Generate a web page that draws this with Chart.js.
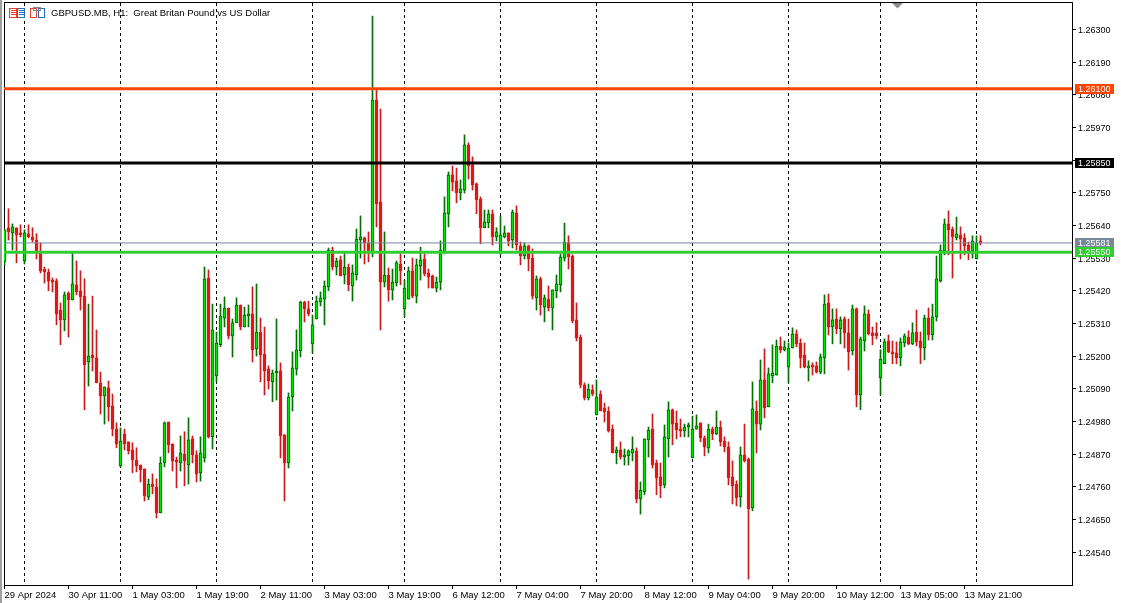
<!DOCTYPE html>
<html>
<head>
<meta charset="utf-8">
<style>html,body{margin:0;padding:0;background:#fff;overflow:hidden}canvas{display:block}</style>
<script src="https://cdn.jsdelivr.net/npm/chart.js@4"></script>
</head>
<body>
<canvas id="c" width="1126" height="603"></canvas>
<script>
const title = "GBPUSD.MB, H1:  Great Britan Pound vs US Dollar";
const highs = [
1.25628,1.25696,1.25645,1.25632,1.25642,1.25625,1.25642,1.25632,1.25612,1.25581,
1.25500,1.25493,1.25463,1.25460,1.25379,1.25416,1.25416,1.25547,1.25520,1.25487,
1.25460,1.25375,1.25402,1.25288,1.25146,1.25096,1.25116,1.25072,1.24975,1.24958,
1.24954,1.24911,1.24908,1.24891,1.24833,1.24820,1.24786,1.24803,1.24786,1.24860,
1.24978,1.24978,1.24904,1.24860,1.24931,1.24945,1.24992,1.24931,1.24881,1.24928,
1.25500,1.25490,1.25375,1.25281,1.25375,1.25399,1.25362,1.25325,1.25396,1.25372,
1.25365,1.25372,1.25433,1.25443,1.25328,1.25298,1.25167,1.25153,1.25325,1.25177,
1.24935,1.25076,1.25214,1.25288,1.25385,1.25385,1.25385,1.25338,1.25402,1.25416,
1.25453,1.25564,1.25567,1.25530,1.25537,1.25547,1.25510,1.25507,1.25628,1.25672,
1.25601,1.25618,1.26345,1.26096,1.26032,1.25618,1.25497,1.25493,1.25520,1.25544,
1.25456,1.25500,1.25530,1.25527,1.25567,1.25544,1.25493,1.25473,1.25466,1.25588,
1.25736,1.25820,1.25840,1.25833,1.25793,1.25945,1.25918,1.25871,1.25783,1.25736,
1.25692,1.25692,1.25692,1.25632,1.25672,1.25638,1.25615,1.25692,1.25706,1.25584,
1.25581,1.25574,1.25561,1.25470,1.25466,1.25406,1.25436,1.25423,1.25473,1.25544,
1.25648,1.25605,1.25541,1.25379,1.25271,1.25110,1.25106,1.25103,1.25120,1.25083,
1.25042,1.25029,1.24968,1.24894,1.24911,1.24887,1.24884,1.24928,1.24891,1.24776,
1.24921,1.24961,1.25005,1.24850,1.24840,1.24968,1.25046,1.25022,1.25015,1.24988,
1.24971,1.24975,1.24998,1.25002,1.24975,1.24931,1.24971,1.24961,1.25015,1.24981,
1.24928,1.24911,1.24847,1.24780,1.24894,1.24971,1.24857,1.25113,1.25049,1.25187,
1.25224,1.25160,1.25238,1.25254,1.25264,1.25251,1.25244,1.25295,1.25288,1.25258,
1.25244,1.25184,1.25177,1.25180,1.25207,1.25406,1.25409,1.25359,1.25359,1.25332,
1.25332,1.25325,1.25372,1.25362,1.25264,1.25369,1.25355,1.25298,1.25312,1.25221,
1.25258,1.25271,1.25251,1.25248,1.25261,1.25275,1.25285,1.25312,1.25355,1.25281,
1.25338,1.25362,1.25375,1.25537,1.25574,1.25662,1.25689,1.25635,1.25668,1.25635,
1.25612,1.25584,1.25605,1.25605,1.25605];
const lows = [
1.25507,1.25591,1.25557,1.25514,1.25601,1.25510,1.25598,1.25584,1.25527,1.25480,
1.25446,1.25420,1.25416,1.25305,1.25238,1.25285,1.25264,1.25389,1.25406,1.25355,
1.25019,1.25099,1.25150,1.25110,1.25005,1.24971,1.24981,1.24931,1.24891,1.24827,
1.24884,1.24870,1.24807,1.24810,1.24776,1.24712,1.24716,1.24736,1.24655,1.24672,
1.24827,1.24874,1.24813,1.24756,1.24813,1.24763,1.24769,1.24840,1.24776,1.24779,
1.24843,1.24924,1.24887,1.25113,1.25231,1.25298,1.25258,1.25197,1.25312,1.25288,
1.25298,1.25298,1.25180,1.25200,1.25113,1.25069,1.25089,1.25046,1.25052,1.24857,
1.24712,1.24823,1.25015,1.25136,1.25197,1.25315,1.25335,1.25210,1.25325,1.25369,
1.25305,1.25420,1.25490,1.25473,1.25470,1.25443,1.25420,1.25385,1.25456,1.25530,
1.25510,1.25517,1.25534,1.25635,1.25288,1.25433,1.25385,1.25389,1.25436,1.25440,
1.25332,1.25392,1.25396,1.25379,1.25456,1.25470,1.25429,1.25429,1.25416,1.25423,
1.25544,1.25635,1.25756,1.25716,1.25726,1.25749,1.25796,1.25759,1.25679,1.25578,
1.25632,1.25632,1.25574,1.25588,1.25541,1.25598,1.25571,1.25564,1.25557,1.25507,
1.25527,1.25487,1.25392,1.25355,1.25338,1.25315,1.25352,1.25288,1.25396,1.25416,
1.25520,1.25493,1.25312,1.25251,1.25093,1.25052,1.25052,1.25066,1.25002,1.25015,
1.24978,1.24944,1.24874,1.24837,1.24853,1.24833,1.24833,1.24847,1.24706,1.24668,
1.24733,1.24860,1.24823,1.24733,1.24723,1.24756,1.24860,1.24901,1.24921,1.24928,
1.24928,1.24928,1.24857,1.24954,1.24911,1.24864,1.24874,1.24918,1.24935,1.24897,
1.24877,1.24766,1.24702,1.24695,1.24692,1.24843,1.24449,1.24679,1.24874,1.24951,
1.24992,1.25029,1.25110,1.25136,1.25211,1.25217,1.25110,1.25227,1.25231,1.25160,
1.25160,1.25116,1.25136,1.25143,1.25140,1.25140,1.25271,1.25241,1.25275,1.25241,
1.25227,1.25153,1.25204,1.25029,1.25019,1.25217,1.25271,1.25238,1.25258,1.25069,
1.25174,1.25211,1.25174,1.25174,1.25167,1.25231,1.25238,1.25238,1.25234,1.25174,
1.25187,1.25254,1.25254,1.25318,1.25449,1.25541,1.25541,1.25463,1.25591,1.25527,
1.25541,1.25524,1.25530,1.25527,1.25574];
const opens = [
1.25517,1.25632,1.25615,1.25632,1.25615,1.25520,1.25612,1.25601,1.25591,1.25547,
1.25493,1.25483,1.25456,1.25453,1.25355,1.25322,1.25413,1.25389,1.25440,1.25420,
1.25402,1.25180,1.25204,1.25194,1.25110,1.25066,1.25093,1.25032,1.24954,1.24830,
1.24938,1.24911,1.24884,1.24850,1.24833,1.24820,1.24726,1.24769,1.24759,1.24672,
1.24840,1.24978,1.24904,1.24850,1.24840,1.24870,1.24833,1.24921,1.24867,1.24807,
1.24857,1.25463,1.24928,1.25133,1.25238,1.25328,1.25362,1.25268,1.25312,1.25372,
1.25298,1.25335,1.25342,1.25224,1.25281,1.25207,1.25157,1.25113,1.25143,1.25150,
1.24935,1.24840,1.25062,1.25157,1.25217,1.25382,1.25359,1.25241,1.25325,1.25382,
1.25392,1.25433,1.25557,1.25500,1.25524,1.25473,1.25500,1.25436,1.25473,1.25591,
1.25598,1.25581,1.25547,1.26062,1.25719,1.25449,1.25473,1.25423,1.25446,1.25510,
1.25359,1.25392,1.25487,1.25402,1.25503,1.25527,1.25480,1.25470,1.25429,1.25449,
1.25551,1.25679,1.25810,1.25790,1.25749,1.25759,1.25911,1.25844,1.25780,1.25729,
1.25632,1.25648,1.25679,1.25601,1.25547,1.25601,1.25615,1.25591,1.25682,1.25571,
1.25537,1.25571,1.25530,1.25396,1.25460,1.25365,1.25392,1.25362,1.25420,1.25440,
1.25530,1.25581,1.25537,1.25322,1.25264,1.25103,1.25059,1.25086,1.25002,1.25072,
1.25025,1.25015,1.24954,1.24874,1.24884,1.24860,1.24864,1.24874,1.24881,1.24719,
1.24743,1.24918,1.24954,1.24840,1.24793,1.24766,1.24921,1.25019,1.24975,1.24954,
1.24948,1.24961,1.24857,1.24954,1.24975,1.24924,1.24891,1.24954,1.24938,1.24961,
1.24914,1.24894,1.24793,1.24769,1.24726,1.24867,1.24853,1.24689,1.25015,1.24971,
1.25120,1.25029,1.25133,1.25136,1.25234,1.25221,1.25163,1.25227,1.25275,1.25244,
1.25204,1.25160,1.25167,1.25167,1.25146,1.25194,1.25379,1.25298,1.25325,1.25291,
1.25325,1.25278,1.25217,1.25359,1.25069,1.25251,1.25342,1.25278,1.25278,1.25126,
1.25174,1.25251,1.25214,1.25211,1.25194,1.25244,1.25264,1.25241,1.25281,1.25251,
1.25227,1.25328,1.25271,1.25332,1.25453,1.25554,1.25645,1.25628,1.25598,1.25608,
1.25598,1.25574,1.25554,1.25527,1.25588];
const closes = [
1.25625,1.25618,1.25635,1.25608,1.25608,1.25615,1.25601,1.25591,1.25554,1.25487,
1.25483,1.25453,1.25449,1.25342,1.25322,1.25406,1.25389,1.25443,1.25416,1.25399,
1.25170,1.25200,1.25194,1.25110,1.25066,1.25096,1.25029,1.24954,1.24904,1.24914,
1.24904,1.24881,1.24850,1.24830,1.24817,1.24729,1.24769,1.24759,1.24672,1.24840,
1.24975,1.24901,1.24847,1.24843,1.24874,1.24847,1.24918,1.24867,1.24803,1.24874,
1.25460,1.24928,1.25288,1.25244,1.25335,1.25362,1.25268,1.25312,1.25372,1.25298,
1.25338,1.25342,1.25221,1.25281,1.25204,1.25150,1.25116,1.25143,1.25146,1.24931,
1.24840,1.25062,1.25160,1.25221,1.25382,1.25359,1.25342,1.25305,1.25385,1.25396,
1.25436,1.25557,1.25500,1.25520,1.25470,1.25500,1.25440,1.25480,1.25594,1.25601,
1.25581,1.25551,1.26062,1.25712,1.25449,1.25473,1.25423,1.25449,1.25514,1.25487,
1.25429,1.25487,1.25402,1.25507,1.25524,1.25477,1.25466,1.25429,1.25449,1.25557,
1.25682,1.25810,1.25786,1.25749,1.25763,1.25911,1.25840,1.25776,1.25726,1.25632,
1.25652,1.25679,1.25601,1.25618,1.25608,1.25615,1.25588,1.25685,1.25574,1.25537,
1.25571,1.25527,1.25402,1.25460,1.25372,1.25396,1.25362,1.25423,1.25443,1.25534,
1.25584,1.25534,1.25318,1.25261,1.25103,1.25059,1.25089,1.25072,1.25062,1.25015,
1.25012,1.24948,1.24874,1.24884,1.24860,1.24867,1.24881,1.24887,1.24719,1.24749,
1.24921,1.24951,1.24833,1.24790,1.24763,1.24928,1.25019,1.24971,1.24951,1.24948,
1.24961,1.24968,1.24954,1.24965,1.24924,1.24894,1.24954,1.24938,1.24961,1.24911,
1.24894,1.24790,1.24763,1.24723,1.24867,1.24847,1.24685,1.25022,1.24971,1.25120,
1.25025,1.25140,1.25143,1.25234,1.25221,1.25231,1.25227,1.25275,1.25241,1.25194,
1.25163,1.25167,1.25163,1.25146,1.25197,1.25375,1.25298,1.25322,1.25291,1.25322,
1.25278,1.25214,1.25359,1.25069,1.25258,1.25342,1.25275,1.25268,1.25268,1.25190,
1.25248,1.25214,1.25207,1.25194,1.25248,1.25268,1.25241,1.25278,1.25248,1.25227,
1.25328,1.25271,1.25332,1.25460,1.25557,1.25645,1.25625,1.25601,1.25612,1.25594,
1.25571,1.25554,1.25588,1.25581,1.25581];
const xTickIndex = [0,16,32,48,64,80,96,112,128,144,160,176,192,208,224,240];
const xTickLabels = ["29 Apr 2024","30 Apr 11:00","1 May 03:00","1 May 19:00","2 May 11:00","3 May 03:00","3 May 19:00","6 May 12:00","7 May 04:00","7 May 20:00","8 May 12:00","9 May 04:00","9 May 20:00","10 May 12:00","13 May 05:00","13 May 21:00"];
const dayGridIndex = [5,29,53,77,100,124,148,172,196,219,243];
const yTickValues = [1.263,1.2619,1.2608,1.2597,1.2586,1.2575,1.2564,1.2553,1.2542,1.2531,1.252,1.2509,1.2498,1.2487,1.2476,1.2465,1.2454];
const levelValues = [1.261,1.2585,1.25581,1.2555];
const levelColors = ["#ff4500","#000000","#778899","#32cd32"];
const levelWidths = [3,3,1,3];

const FONT = "'Liberation Sans', sans-serif";
const bars = opens.map((_,i)=>i);
const isUp = bars.map(i=>closes[i]>=opens[i]);
const levelDatasets = levelValues.map((v,k)=>({
  type:'line', order:k===3?0:1, xAxisID:'x', yAxisID:'y',
  data:[{x:-1,y:v},{x:268,y:v}], borderColor:levelColors[k], borderWidth:levelWidths[k],
  pointRadius:0, tension:0
}));
const frame = {
  id:'frame',
  beforeDatasetsDraw(ch){
    const c=ch.ctx;
    c.save();
    c.fillStyle='#a0a0a0';c.fillRect(0,0,2,603);
    c.strokeStyle='#000';c.lineWidth=1;
    c.strokeRect(4.5,2.5,1068,583);
    c.restore();
  },
  afterDraw(ch){
    const c=ch.ctx,y=ch.scales.y;
    c.save();
    c.font="9px "+FONT;c.textBaseline='middle';c.textAlign='left';
    levelValues.forEach((v,k)=>{
      const py=Math.round(y.getPixelForValue(v));
      c.fillStyle=levelColors[k];c.fillRect(1075,py-5,39,10);
      c.fillStyle='#fff';
      c.fillText(v.toFixed(5),1078,py+0.5);
    });
    // header icons
    c.lineWidth=1;
    c.strokeStyle='#e8402a';
    c.strokeRect(9.5,8.5,7,9);
    c.beginPath();[10.5,12.5,14.5].forEach(t=>{c.moveTo(11,t);c.lineTo(16,t)});c.stroke();
    c.strokeStyle='#1f6fc0';c.strokeRect(17.5,8.5,7,9);
    c.beginPath();[10.5,12.5,14.5].forEach(t=>{c.moveTo(19,t);c.lineTo(24,t)});c.stroke();
    c.strokeStyle='#e8402a';c.strokeRect(30.5,8.5,6,9);
    c.strokeStyle='#1f6fc0';c.strokeRect(38.5,8.5,6,9);
    c.strokeStyle='#888';c.strokeRect(33.5,7.5,7,3);
    c.fillStyle='#000';c.font="9.5px "+FONT;
    c.fillText(title,51,13.5);
    // chart-shift marker
    c.fillStyle='#8c8c8c';c.beginPath();c.moveTo(892,3);c.lineTo(903,3);c.lineTo(897.5,8.5);c.closePath();c.fill();
    c.restore();
  }
};
new Chart(document.getElementById('c'),{
  type:'bar',
  data:{datasets:[
    ...levelDatasets,
    {order:2,stack:'candle',xAxisID:'x',yAxisID:'y',barThickness:3,minBarLength:2,borderSkipped:false,borderWidth:1,
     data:bars.map(i=>({x:i,y:[opens[i],closes[i]]})),
     backgroundColor:bars.map(i=>isUp[i]?'#00e600':'#e81414'),
     borderColor:bars.map(i=>isUp[i]?'#006400':'#e81414')},
    {order:3,stack:'candle',xAxisID:'x',yAxisID:'y',barThickness:1,borderSkipped:false,borderWidth:0,
     data:bars.map(i=>({x:i,y:[lows[i],highs[i]]})),
     backgroundColor:bars.map(i=>isUp[i]?'#007000':'#cc1a1a')}
  ]},
  options:{
    responsive:false,animation:false,
    layout:{padding:{left:4,top:3,right:0,bottom:0}},
    plugins:{legend:{display:false},tooltip:{enabled:false}},
    scales:{
      x:{type:'linear',position:'bottom',min:-0.125,max:266.875,offset:false,
        border:{color:'#000'},
        grid:{offset:false,drawOnChartArea:false,drawTicks:true,tickLength:4,tickColor:'#000'},
        afterBuildTicks(s){s.ticks=xTickIndex.map(v=>({value:v}))},
        afterFit(s){s.height=18;s.paddingLeft=0;s.paddingRight=0},
        ticks:{autoSkip:false,maxRotation:0,minRotation:0,align:'start',padding:1,color:'#000',font:{family:FONT,size:9.5},
          callback(v){const k=xTickIndex.indexOf(v);return k<0?'':xTickLabels[k]}}},
      dayGrid:{type:'linear',position:'bottom',min:-0.125,max:266.875,offset:false,
        border:{display:false,dash:[3,3]},
        grid:{offset:false,color:'#000',lineWidth:1,drawTicks:false,tickLength:0},
        afterBuildTicks(s){s.ticks=dayGridIndex.map(v=>({value:v}))},
        afterFit(s){s.height=0;s.paddingLeft=0;s.paddingRight=0},
        ticks:{display:false}},
      y:{type:'linear',position:'right',stacked:false,min:1.24429,max:1.26389,
        border:{color:'#000'},
        grid:{drawOnChartArea:false,drawTicks:true,tickLength:4,tickColor:'#000'},
        afterBuildTicks(s){s.ticks=yTickValues.map(v=>({value:v}))},
        afterFit(s){s.width=54;s.paddingTop=0;s.paddingBottom=0},
        ticks:{padding:2,labelOffset:1,color:'#000',font:{family:FONT,size:9},callback(v){return Number(v).toFixed(5)}}}
    }
  },
  plugins:[frame]
});
</script>
</body>
</html>
